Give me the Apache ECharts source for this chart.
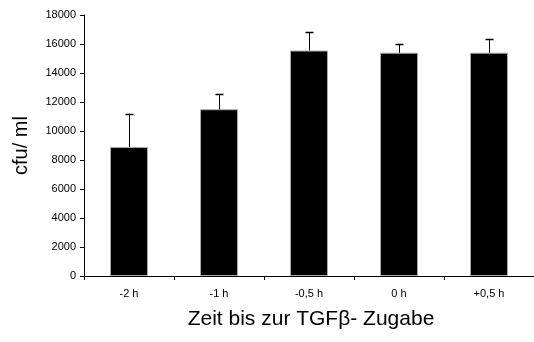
<!DOCTYPE html>
<html><head><meta charset="utf-8">
<script src="https://cdn.jsdelivr.net/npm/echarts@6/dist/echarts.min.js"></script>
<style>html,body{margin:0;padding:0;background:#fff}#c{width:534px;height:342px}</style>
</head><body><div id="c"></div>
<script>
const categories = ['-2 h', '-1 h', '-0,5 h', '0 h', '+0,5 h'];
const means = [8900, 11500, 15550, 15400, 15400];
const errUpper = [11200, 12550, 16800, 16000, 16350];
const yTicks = [0, 2000, 4000, 6000, 8000, 10000, 12000, 14000, 16000, 18000];

const chart = echarts.init(document.getElementById('c'), null, {renderer: 'canvas'});
const font = 'Liberation Sans, Arial, sans-serif';
chart.setOption({
  animation: false,
  backgroundColor: '#fff',
  grid: {left: 84, top: 15, width: 454, height: 261},
  xAxis: {
    type: 'category', data: categories,
    axisLine: {lineStyle: {color: '#000', width: 1}},
    axisTick: {show: true, length: 4, lineStyle: {color: '#000'}},
    axisLabel: {color: '#000', fontSize: 11, fontFamily: font, margin: 12},
    name: 'Zeit bis zur TGFβ- Zugabe', nameLocation: 'middle', nameGap: 33,
    nameTextStyle: {color: '#000', fontSize: 21, fontFamily: font, padding: [0, 0, 0, 4]}
  },
  yAxis: {
    type: 'value', min: yTicks[0], max: yTicks[yTicks.length - 1], interval: 2000,
    splitLine: {show: false},
    axisLine: {show: true, lineStyle: {color: '#000', width: 1}},
    axisTick: {show: true, length: 4, lineStyle: {color: '#000'}},
    axisLabel: {color: '#000', fontSize: 11, fontFamily: font, margin: 8, formatter: v => String(v)},
    name: 'cfu/ ml', nameLocation: 'middle', nameGap: 53,
    nameTextStyle: {color: '#000', fontSize: 20, fontFamily: font}
  },
  series: [
    {
      type: 'bar', data: means, barWidth: 38,
      itemStyle: {color: '#000', borderColor: '#aaa', borderWidth: 1}
    },
    {
      type: 'custom',
      data: categories.map((c, i) => [i, means[i], errUpper[i]]),
      renderItem: function (params, api) {
        const p0 = api.coord([api.value(0), api.value(1)]);
        const p1 = api.coord([api.value(0), api.value(2)]);
        const x = Math.round(p0[0]) + 0.5;
        return {
          type: 'group',
          children: [
            {type: 'line', shape: {x1: x, y1: p0[1], x2: x, y2: p1[1]}, style: {stroke: '#000', lineWidth: 1}},
            {type: 'line', shape: {x1: x - 4, y1: Math.round(p1[1]) + 0.5, x2: x + 4, y2: Math.round(p1[1]) + 0.5}, style: {stroke: '#000', lineWidth: 1.5}}
          ]
        };
      },
      z: 10
    }
  ]
});
</script></body></html>
